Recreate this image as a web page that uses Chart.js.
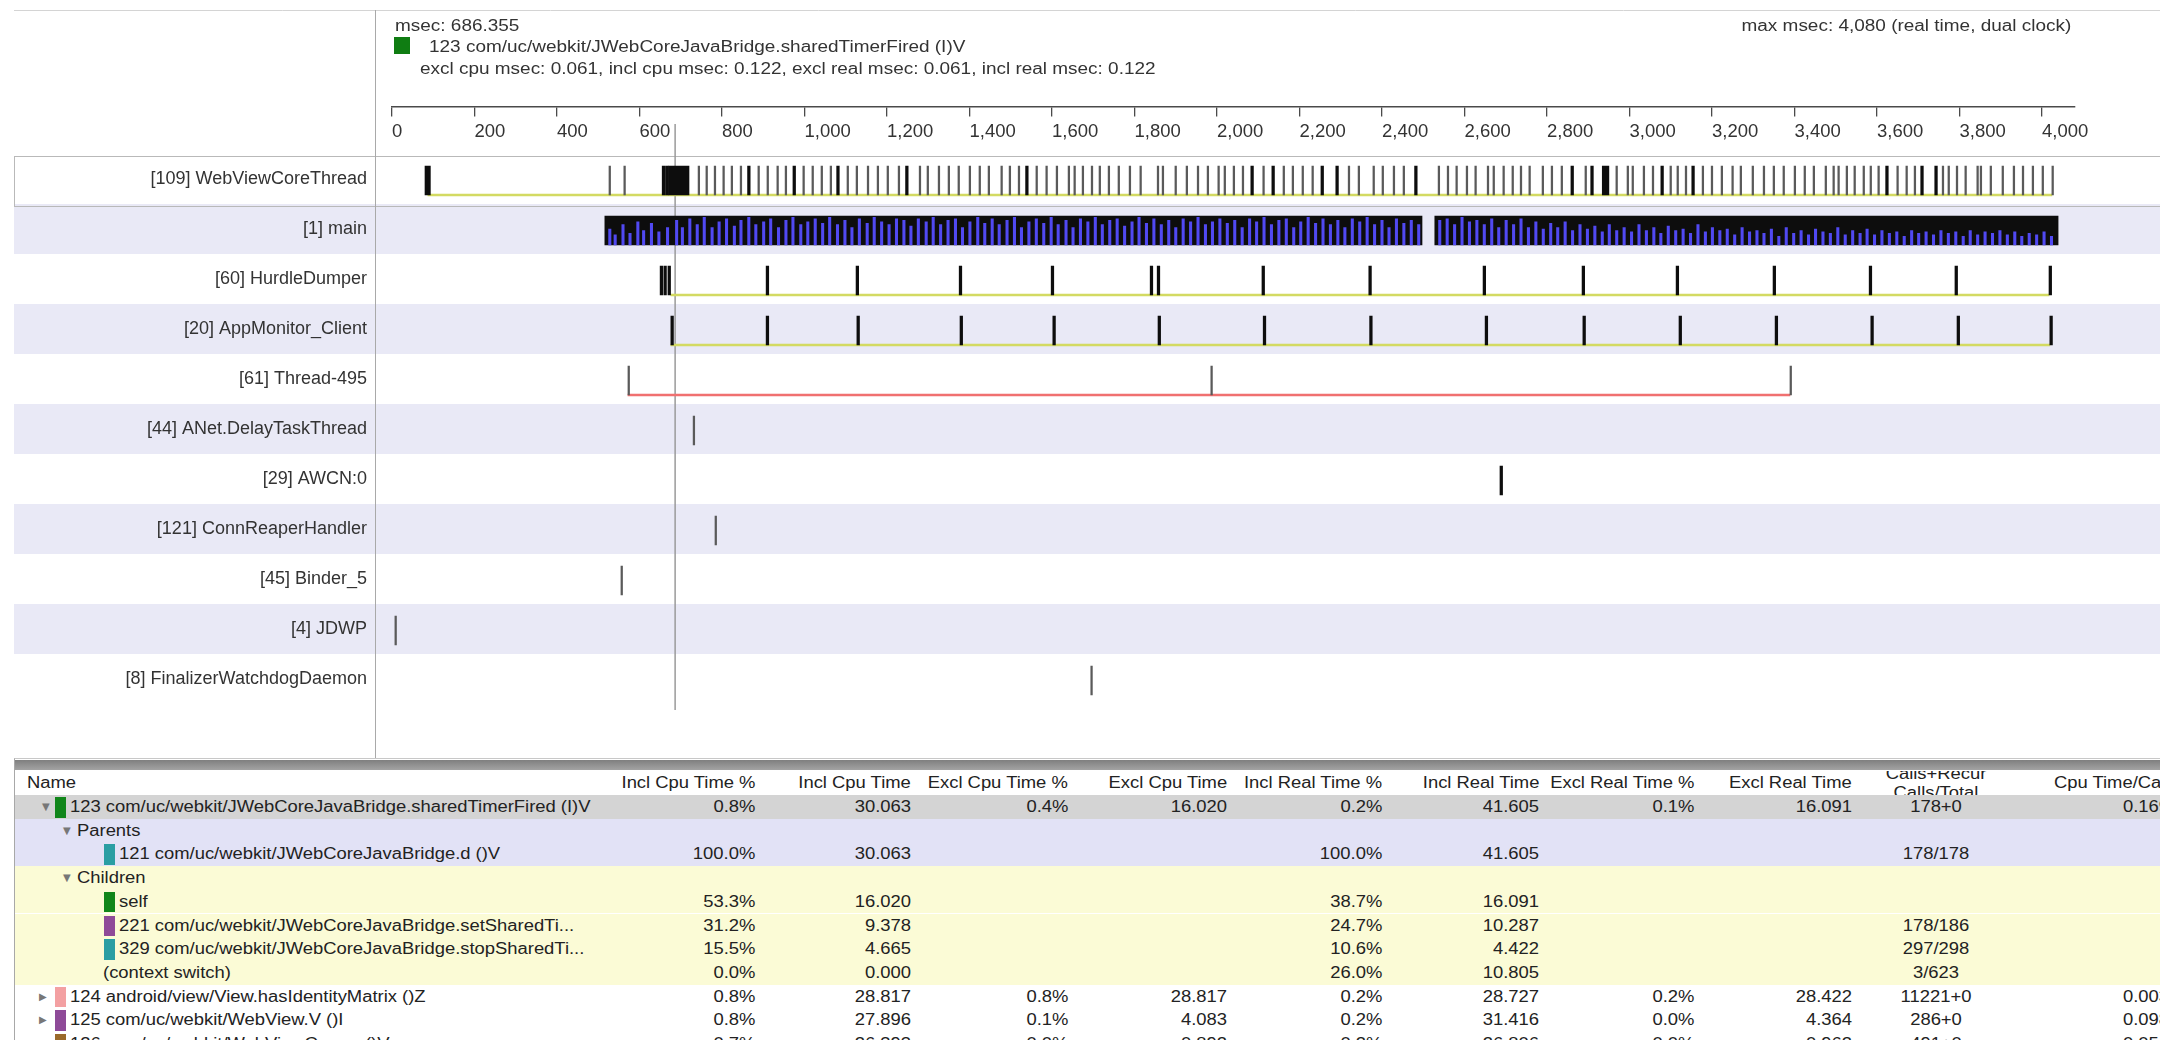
<!DOCTYPE html>
<html>
<head>
<meta charset="utf-8">
<script src="https://cdn.jsdelivr.net/npm/chart.js@4.4.1/dist/chart.umd.min.js"></script>
<style>
  html, body { margin: 0; padding: 0; background: #fff; }
  body { width: 2160px; height: 1040px; overflow: hidden; position: relative;
         font-family: "Liberation Sans", Arial, sans-serif; color: #333; }
  #plot { position: absolute; left: 0; top: 0; width: 2160px; height: 758px; }
  .info { position: absolute; white-space: nowrap; font-size: 16px; line-height: 18px;
          transform: scaleX(1.185); transform-origin: left center; color: #333; }
  .info.right { transform-origin: right center; }
  #swatchTop { position: absolute; left: 394px; top: 37px; width: 16px; height: 17px; background: #0f7d12; }
  #table { position: absolute; left: 14px; top: 758px; width: 2146px; height: 282px; overflow: hidden;
           background: #fff; border-left: 1px solid #a8a8a8; border-top: 1px solid #c8c8c8; }
  #table .bar { position: absolute; left: 0; top: 1px; width: 100%; height: 10px;
                background: linear-gradient(#7f7f7f, #a3a3a3); }
  #table .row { position: absolute; left: 0; width: 100%; overflow: hidden; }
  #table .cell { position: absolute; top: 0; white-space: nowrap; font-size: 16px; color: #222;
                 transform: scaleX(1.15); }
  #table .r { transform-origin: right center; text-align: right; }
  #table .l { transform-origin: left center; }
  #table .tri { position: absolute; top: 0; font-size: 10px; color: #777; font-family: "DejaVu Sans", sans-serif; }
  #table .sw { position: absolute; top: 2px; width: 11px; }
</style>
</head>
<body>
<div id="plot"><canvas id="timeline"></canvas></div>

<div class="info" style="left:395px; top:17px;">msec: 686.355</div>
<div id="swatchTop"></div>
<div class="info" style="left:429px; top:38px;">123 com/uc/webkit/JWebCoreJavaBridge.sharedTimerFired (I)V</div>
<div class="info" style="left:420px; top:60px;">excl cpu msec: 0.061, incl cpu msec: 0.122, excl real msec: 0.061, incl real msec: 0.122</div>
<div class="info right" style="right:89px; top:17px;">max msec: 4,080 (real time, dual clock)</div>

<div id="table"></div>

<script>
// ---- timeline data (msec) ----
const threadNames = [
  "[109] WebViewCoreThread", "[1] main", "[60] HurdleDumper", "[20] AppMonitor_Client",
  "[61] Thread-495", "[44] ANet.DelayTaskThread", "[29] AWCN:0", "[121] ConnReaperHandler",
  "[45] Binder_5", "[4] JDWP", "[8] FinalizerWatchdogDaemon"
];
const maxMsec = 4080;
const cursorMsec = 686.355;
const axisTicks = [0, 200, 400, 600, 800, 1000, 1200, 1400, 1600, 1800, 2000,
                   2200, 2400, 2600, 2800, 3000, 3200, 3400, 3600, 3800, 4000];

// WebViewCoreThread: thin call marks
const webviewCalls = [526, 562, 742, 761, 781, 802, 822, 844, 887, 909, 933, 953, 996, 1018, 1040,
  1062, 1103, 1125, 1152, 1176, 1200, 1227, 1278, 1297, 1324, 1348, 1372, 1399, 1423, 1445,
  1476, 1496, 1518, 1561, 1585, 1610, 1639, 1653, 1673, 1695, 1714, 1736, 1760, 1787, 1813,
  1855, 1867, 1898, 1925, 1952, 1976, 2002, 2017, 2039, 2061, 2111, 2160, 2182, 2206, 2230,
  2318, 2342, 2378, 2400, 2427, 2451, 2536, 2558, 2579, 2604, 2625, 2655, 2669, 2693, 2715,
  2735, 2756, 2788, 2810, 2834, 2892, 2967, 2994, 3006, 3033, 3055, 3098, 3115, 3135, 3176,
  3198, 3222, 3248, 3268, 3297, 3324, 3348, 3372, 3399, 3423, 3445, 3474, 3493, 3505, 3525,
  3544, 3566, 3583, 3602, 3648, 3670, 3690, 3758, 3772, 3792, 3813, 3842, 3850, 3874, 3903,
  3930, 3952, 3976, 4000, 4024];
// WebViewCoreThread: longer / darker calls [start, end]
const webviewLong = [[80, 93], [655, 660], [663, 667], [670, 720], [862, 868], [972, 978],
  [1078, 1084], [1245, 1251], [1536, 1542], [2082, 2088], [2133, 2139], [2252, 2258],
  [2288, 2294], [2479, 2485], [2858, 2864], [2906, 2912], [2934, 2950], [3076, 3082],
  [3151, 3157], [3621, 3627], [3706, 3712], [3740, 3746]];

// main: busy spans and blue sub-call spikes (height as share of the row mark)
const mainBusy = [[516, 2497], [2528, 4039]];
const mainSpikeMsec = [528, 541, 560, 577, 596, 610, 629, 647, 668, 690, 704, 722, 740, 757, 776,
  793, 811, 830, 846, 865, 882, 901, 918, 937, 955, 972, 991, 1008, 1026, 1044, 1061, 1080,
  1098, 1115, 1133, 1152, 1169, 1187, 1205, 1223, 1241, 1258, 1276, 1295, 1312, 1330, 1348,
  1366, 1383, 1401, 1420, 1437, 1455, 1472, 1491, 1509, 1526, 1544, 1562, 1580, 1598, 1615,
  1634, 1651, 1669, 1687, 1705, 1722, 1740, 1758, 1776, 1794, 1811, 1829, 1847, 1865, 1883,
  1900, 1918, 1936, 1954, 1972, 1989, 2007, 2025, 2043, 2061, 2079, 2096, 2114, 2132, 2150,
  2168, 2186, 2203, 2221, 2239, 2257, 2275, 2293, 2310, 2328, 2346, 2364, 2382, 2400, 2417,
  2435, 2453, 2471, 2489,
  2540, 2558, 2576, 2594, 2612, 2630, 2648, 2666, 2683, 2701, 2719, 2737, 2755, 2773, 2791,
  2809, 2826, 2844, 2862, 2880, 2898, 2916, 2934, 2951, 2969, 2987, 3005, 3023, 3041, 3059,
  3076, 3094, 3112, 3130, 3148, 3166, 3184, 3201, 3219, 3237, 3255, 3273, 3291, 3309, 3326,
  3344, 3362, 3380, 3398, 3416, 3434, 3451, 3469, 3487, 3505, 3523, 3541, 3559, 3576, 3594,
  3612, 3630, 3648, 3666, 3684, 3701, 3719, 3737, 3755, 3773, 3791, 3809, 3826, 3844, 3862,
  3880, 3898, 3916, 3934, 3951, 3969, 3987, 4005, 4023];
const mainSpikeHeight = [.55, .35, .7, .4, .8, .5, .75, .45, .6, .85, .6, .9, .7, .95, .6,
  .8, .9, .65, .85, .95, .7, .8, .9, .6, .85, .95, .7, .8, .9, .75, .95, .7,
  .85, .6, .9, .75, .95, .8, .7, .9, .85, .65, .9, .8, .95, .7, .85,
  .9, .6, .8, .95, .75, .9, .7, .85, .95, .6, .8, .9, .75, .95, .7,
  .85, .6, .9, .8, .95, .7, .85, .9, .65, .8, .95, .75, .9, .7, .85,
  .6, .9, .8, .95, .7, .8, .9, .75, .85, .6, .9, .8, .95, .7, .85,
  .9, .6, .8, .95, .75, .9, .7, .85, .6, .9, .8, .95, .7, .85, .6,
  .9, .75, .85, .7,
  .85, .9, .7, .95, .8, .85, .7, .9, .6, .85, .7, .9, .6, .8, .55,
  .75, .6, .8, .5, .7, .55, .65, .45, .7, .5, .6, .45, .7, .5, .6,
  .4, .65, .5, .55, .4, .7, .45, .6, .5, .55, .35, .6, .45, .5, .4,
  .55, .3, .6, .4, .5, .35, .55, .45, .4, .6, .35, .5, .4, .55, .35,
  .5, .4, .45, .3, .5, .4, .45, .35, .5, .4, .45, .3, .5, .35, .45,
  .4, .5, .35, .45, .3, .4, .35, .45, .3];

const hurdleCalls = [650, 659, 669, 907, 1125, 1375, 1598, 1838, 1855, 2109, 2368, 2645, 2885,
  3113, 3348, 3581, 3789, 4017];
const appMonitorCalls = [676, 907, 1127, 1377, 1602, 1857, 2112, 2370, 2650, 2887, 3120, 3353,
  3585, 3794, 4019];
const thread495Calls = [572, 1985, 3389];
const anetCalls = [730];
const awcnCalls = [2686];
const connReaperCalls = [783];
const binderCalls = [555];
const jdwpCalls = [7];
const finalizerCalls = [1694];

// thread life lines
const lifeRows = [0, 2, 3, 4];
const lifeSpans = [[87, 4024], [676, 4017], [676, 4019], [572, 3389]];

// ---- call table text ----
const tableHeaders = ["Incl Cpu Time %", "Incl Cpu Time", "Excl Cpu Time %", "Excl Cpu Time",
  "Incl Real Time %", "Incl Real Time", "Excl Real Time %", "Excl Real Time", "", "Cpu Time/Call"];
const tableRows = [
  { band: "sel", tri: "▼", triX: 27, sw: "#11861a", swX: 40, x: 55, name: "123 com/uc/webkit/JWebCoreJavaBridge.sharedTimerFired (I)V",
    v: ["0.8%", "30.063", "0.4%", "16.020", "0.2%", "41.605", "0.1%", "16.091", "178+0", "0.169"] },
  { band: "par", tri: "▼", triX: 48, x: 62, name: "Parents", v: [] },
  { band: "par", sw: "#2a9ea3", swX: 89, x: 104, name: "121 com/uc/webkit/JWebCoreJavaBridge.d ()V",
    v: ["100.0%", "30.063", "", "", "100.0%", "41.605", "", "", "178/178", ""] },
  { band: "chi", tri: "▼", triX: 48, x: 62, name: "Children", v: [] },
  { band: "chi", sw: "#11861a", swX: 89, x: 104, name: "self",
    v: ["53.3%", "16.020", "", "", "38.7%", "16.091", "", "", "", ""] },
  { band: "chi", sw: "#8e4a98", swX: 89, x: 104, name: "221 com/uc/webkit/JWebCoreJavaBridge.setSharedTi...",
    v: ["31.2%", "9.378", "", "", "24.7%", "10.287", "", "", "178/186", ""] },
  { band: "chi", sw: "#2a9ea3", swX: 89, x: 104, name: "329 com/uc/webkit/JWebCoreJavaBridge.stopSharedTi...",
    v: ["15.5%", "4.665", "", "", "10.6%", "4.422", "", "", "297/298", ""] },
  { band: "chi", x: 88, name: "(context switch)",
    v: ["0.0%", "0.000", "", "", "26.0%", "10.805", "", "", "3/623", ""] },
  { band: "", tri: "▶", triX: 24, sw: "#f3a0a2", swX: 40, x: 55, name: "124 android/view/View.hasIdentityMatrix ()Z",
    v: ["0.8%", "28.817", "0.8%", "28.817", "0.2%", "28.727", "0.2%", "28.422", "11221+0", "0.003"] },
  { band: "", tri: "▶", triX: 24, sw: "#8e4a98", swX: 40, x: 55, name: "125 com/uc/webkit/WebView.V ()I",
    v: ["0.8%", "27.896", "0.1%", "4.083", "0.2%", "31.416", "0.0%", "4.364", "286+0", "0.098"] },
  { band: "", tri: "▶", triX: 24, sw: "#9a6a2a", swX: 40, x: 55, name: "126 com/uc/webkit/WebViewCore.a ()V",
    v: ["0.7%", "26.393", "0.0%", "0.892", "0.2%", "26.806", "0.0%", "0.962", "491+0", "0.054"] }
];

// ---- layout constants (pixels) ----
const tableLeft = 14;
const colRight = [754, 910, 1067, 1226, 1381, 1538, 1693, 1851, 1935, 2168];
const rowH = 23.7;
const firstRowTop = 36;

const row0Px = 179;       // centre of first thread row
const rowPx = 50;         // row pitch
const axisPx = 107;       // time axis line
const tickLen = 9, tickPad = 5, tickFontSize = 18.5;

// ---- build the chart ----
const markOffset = 0.03;   // mark centre below label line (row units)
const lifeOffset = 0.32;   // life line at mark bottom

function marks(row, list, len) {
  return list.map(t => ({ x: [t, t + len], y: row + markOffset }));
}
function spans(row, list) {
  return list.map(s => ({ x: [s[0], s[1]], y: row + markOffset }));
}

const thinMarks = [].concat(
  marks(0, webviewCalls, 1),
  marks(4, thread495Calls, 1),
  marks(5, anetCalls, 1),
  marks(7, connReaperCalls, 1),
  marks(8, binderCalls, 1),
  marks(9, jdwpCalls, 1),
  marks(10, finalizerCalls, 1)
);
const darkMarks = [].concat(
  spans(0, webviewLong),
  spans(1, mainBusy),
  marks(2, hurdleCalls, 2),
  marks(3, appMonitorCalls, 2),
  marks(6, awcnCalls, 2)
);
const lifeLines = lifeSpans.map((s, i) => ({ x: s, y: lifeRows[i] + lifeOffset }));
const lifeColors = lifeRows.map(r => r === 4 ? "#f07070" : "#d3da62");
const spikeBase = 1 + lifeOffset;
const spikes = mainSpikeMsec.map((t, i) => ({ x: t, y: [spikeBase, spikeBase - mainSpikeHeight[i] * 0.58] }));

const rowBands = {
  id: "rowBands",
  beforeDraw(chart) {
    const { ctx, scales: { y } } = chart;
    const w = chart.width;
    ctx.save();
    ctx.fillStyle = "#e9e9f6";
    threadNames.forEach((_, i) => {
      if (i % 2 === 1) {
        const top = y.getPixelForValue(i - 0.5);
        const bot = y.getPixelForValue(i + 0.5);
        ctx.fillRect(14, top, w - 14, bot - top);
      }
    });
    // selected thread frame
    const sTop = Math.round(y.getPixelForValue(-0.46)) + 0.5;
    const sBot = Math.round(y.getPixelForValue(0.54)) + 0.5;
    ctx.strokeStyle = "#b9b9b9";
    ctx.lineWidth = 1;
    ctx.strokeRect(14.5, sTop, w, sBot - sTop);
    // top border and label divider
    ctx.strokeStyle = "#d4d4d4";
    ctx.beginPath(); ctx.moveTo(14, 10.5); ctx.lineTo(w, 10.5); ctx.stroke();
    ctx.strokeStyle = "#a9a9a9";
    ctx.beginPath(); ctx.moveTo(375.5, 10); ctx.lineTo(375.5, chart.height); ctx.stroke();
    ctx.restore();
  }
};

const labelFont = { family: "'Liberation Sans', Arial, sans-serif", size: 18 };

const chart = new Chart(document.getElementById("timeline"), {
  type: "bar",
  data: {
    datasets: [
      { indexAxis: "x", data: spikes, backgroundColor: "#5149f2", barThickness: 2.4, grouped: false },
      { indexAxis: "y", data: thinMarks, backgroundColor: "#5a5a5a", barThickness: 29, minBarLength: 1.6, grouped: false },
      { indexAxis: "y", data: darkMarks, backgroundColor: "#0d0d0d", barThickness: 29, minBarLength: 2.6, grouped: false },
      { indexAxis: "y", data: lifeLines, backgroundColor: lifeColors, barThickness: 2, grouped: false },
      { type: "line", indexAxis: "x", data: [{ x: cursorMsec, y: -1.1 }, { x: cursorMsec, y: 10.62 }],
        borderColor: "#9a9a9a", borderWidth: 1.5, pointRadius: 0, fill: false }
    ]
  },
  options: {
    responsive: true,
    maintainAspectRatio: false,
    animation: false,
    indexAxis: "y",
    locale: "en-US",
    layout: { padding: { left: 0, right: 85, top: 0, bottom: 0 } },
    plugins: { legend: { display: false }, tooltip: { enabled: false } },
    scales: {
      x: {
        type: "linear",
        min: 0,
        max: maxMsec,
        offset: false,
        position: { y: (axisPx - row0Px) / rowPx },
        afterBuildTicks: s => { s.ticks = axisTicks.map(v => ({ value: v })); },
        ticks: {
          autoSkip: false, maxRotation: 0, padding: tickPad, color: "#333", align: "start",
          font: { family: "'Liberation Sans', Arial, sans-serif", size: tickFontSize },
          callback: v => Number(v).toLocaleString("en-US")
        },
        grid: { drawOnChartArea: false, drawTicks: true, tickLength: tickLen, color: "#4a4a4a", lineWidth: 1.3, offset: false },
        border: { display: true, color: "#4a4a4a", width: 1.5 }
      },
      y: {
        type: "linear",
        position: "left",
        min: -3,
        max: 11,
        reverse: true,
        offset: false,
        afterBuildTicks: s => { s.ticks = threadNames.map((_, i) => ({ value: i })); },
        afterFit: s => { s.width = 392; },
        ticks: {
          autoSkip: false, padding: 17, color: "#333", font: labelFont,
          callback: v => threadNames[v] ?? ""
        },
        grid: { display: false, offset: false },
        border: { display: false }
      }
    }
  },
  plugins: [rowBands]
});

// pin the row grid: first row centre and pitch in pixels, whatever area the axes leave
const area = chart.chartArea;
chart.options.scales.y.min = (area.top - row0Px) / rowPx;
chart.options.scales.y.max = (area.bottom - row0Px) / rowPx;
chart.update();

// ---- build the call table ----
const table = document.getElementById("table");
const tableWidth = 2146;
const bandColors = { sel: "#d4d4d4", par: "#e2e2f6", chi: "#fbfbd6", "": "#ffffff" };

function cell(parent, text, edge) {
  const el = document.createElement("div");
  el.className = "cell r";
  el.textContent = text;
  el.style.right = (tableWidth - (edge - tableLeft)) + "px";
  parent.appendChild(el);
}
function centredCell(parent, html, centre) {
  const el = document.createElement("div");
  el.className = "cell";
  el.style.left = (centre - tableLeft - 70) + "px";
  el.style.width = "140px";
  el.style.textAlign = "center";
  el.style.transformOrigin = "center center";
  el.innerHTML = html;
  parent.appendChild(el);
  return el;
}

const bar = document.createElement("div");
bar.className = "bar";
table.appendChild(bar);

// header row
const head = document.createElement("div");
head.className = "row";
head.style.top = "12px";
head.style.height = (firstRowTop - 12) + "px";
head.style.lineHeight = (firstRowTop - 12) + "px";
const nameHead = document.createElement("div");
nameHead.className = "cell l";
nameHead.style.left = "12px";
nameHead.textContent = "Name";
head.appendChild(nameHead);
tableHeaders.forEach((h, i) => { if (h) cell(head, h, colRight[i]); });
const callsHead = centredCell(head, "Calls+Recur<br>Calls/Total", colRight[8]);
callsHead.style.lineHeight = "19px";
callsHead.style.top = "-7px";
table.appendChild(head);

tableRows.forEach((r, k) => {
  const row = document.createElement("div");
  row.className = "row";
  row.style.top = (firstRowTop + k * rowH) + "px";
  row.style.height = rowH + "px";
  row.style.lineHeight = rowH + "px";
  row.style.background = bandColors[r.band];
  if (r.tri) {
    const t = document.createElement("div");
    t.className = "tri";
    t.style.left = r.triX + "px";
    t.textContent = r.tri;
    row.appendChild(t);
  }
  if (r.sw) {
    const s = document.createElement("div");
    s.className = "sw";
    s.style.left = r.swX + "px";
    s.style.height = (rowH - 3) + "px";
    s.style.background = r.sw;
    row.appendChild(s);
  }
  const n = document.createElement("div");
  n.className = "cell l";
  n.style.left = r.x + "px";
  n.textContent = r.name;
  row.appendChild(n);
  r.v.forEach((val, i) => {
    if (!val) return;
    if (i === 8) centredCell(row, val, colRight[8]);
    else cell(row, val, colRight[i]);
  });
  table.appendChild(row);
});
</script>
</body>
</html>
